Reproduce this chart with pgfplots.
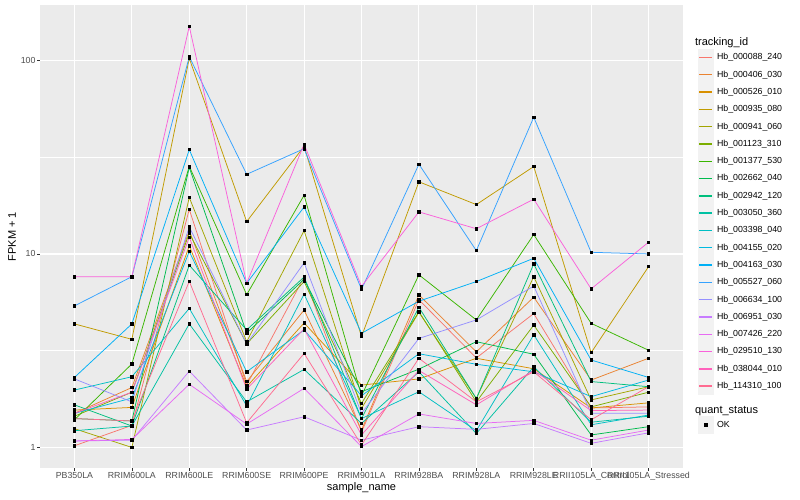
\documentclass[border=0pt]{standalone}
\usepackage{fontspec}
\setmainfont{Liberation Sans}
\usepackage{pgfplots}
\usepackage{pgfplotstable}
\pgfplotsset{compat=1.18}

\definecolor{panel}{HTML}{EBEBEB}
\definecolor{keybg}{HTML}{F2F2F2}
\definecolor{tickc}{HTML}{333333}
\definecolor{labc}{HTML}{4D4D4D}
\definecolor{c1}{HTML}{F8766D}
\definecolor{c2}{HTML}{EA8331}
\definecolor{c3}{HTML}{D89000}
\definecolor{c4}{HTML}{C09B00}
\definecolor{c5}{HTML}{A3A500}
\definecolor{c6}{HTML}{7CAE00}
\definecolor{c7}{HTML}{39B600}
\definecolor{c8}{HTML}{00BB4E}
\definecolor{c9}{HTML}{00BF7D}
\definecolor{c10}{HTML}{00C1A3}
\definecolor{c11}{HTML}{00BFC4}
\definecolor{c12}{HTML}{00BAE0}
\definecolor{c13}{HTML}{00B0F6}
\definecolor{c14}{HTML}{35A2FF}
\definecolor{c15}{HTML}{9590FF}
\definecolor{c16}{HTML}{C77CFF}
\definecolor{c17}{HTML}{E76BF3}
\definecolor{c18}{HTML}{FA62DB}
\definecolor{c19}{HTML}{FF62BC}
\definecolor{c20}{HTML}{FF6C91}

% FPKM + 1, one row per sample, one column per tracking_id
\pgfplotstableread{
x  s1   s2   s3   s4    s5   s6   s7   s8   s9   s10  s11  s12  s13  s14   s15  s16  s17  s18  s19  s20
1  1.02 1.50 1.56 4.35  1.25 1.45 1.39 1.41 1.66 1.22 1.98 1.50 2.30 5.39  2.26 1.08 1.08 7.63 1.50 1.41
2  1.30 2.04 1.61 3.62  1.00 1.93 2.70 1.37 1.29 1.29 2.32 1.80 4.35 7.63  1.72 1.09 1.10 7.63 1.93 1.37
3  17.0 13.2 11.0 102.6 19.6 12.8 28.4 28.0 8.75 4.35 5.23 10.3 34.6 104.6 13.8 2.48 2.12 150  12.2 7.22
4  2.10 2.19 2.06 14.7  3.52 3.43 6.16 3.90 4.05 1.72 1.64 2.46 7.06 25.8  3.43 1.23 1.32 7.06 2.00 1.34
5  7.60 5.13 4.40 36.0  13.2 7.20 20.1 7.40 7.60 2.53 6.20 4.05 17.5 35.0  9.00 1.44 2.02 36.9 4.10 3.06
6  1.20 1.23 2.10 3.74  1.59 1.69 1.85 1.94 1.41 1.33 1.41 1.85 3.89 6.56  1.50 1.09 1.01 6.80 1.16 1.03
7  5.80 6.14 2.26 23.6  5.00 5.03 7.80 2.54 5.30 2.46 1.94 3.05 5.70 29.1  3.66 1.28 1.49 16.5 2.50 2.89
8  2.90 3.12 2.89 18.0  1.79 1.72 4.56 3.52 1.79 1.18 1.22 2.69 7.20 10.4  4.56 1.24 1.33 13.5 1.66 1.72
9  4.92 5.98 2.55 28.3  7.63 4.29 12.6 3.03 8.88 2.61 3.82 2.46 9.50 50.9  6.83 1.33 1.38 19.2 2.50 2.46
10 1.60 2.23 1.60 3.09  1.76 1.62 4.38 1.16 2.19 1.35 1.31 1.83 2.83 10.2  1.50 1.05 1.09 6.60 1.55 1.39
11 1.62 2.89 1.70 8.60  2.06 1.93 3.18 1.28 2.06 1.45 1.47 2.23 2.30 10.0  1.50 1.19 1.23 11.5 1.56 2.06
}\fpkm

\begin{document}
\begin{tikzpicture}
\useasboundingbox (0pt,0pt) rectangle (800pt,500pt);
\begin{axis}[
  at={(40pt,32pt)}, anchor=south west,
  width=643pt, height=463pt, scale only axis,
  xmin=0.4, xmax=11.6,
  ymode=log, ymin=0.783, ymax=193.6,
  xtick={1,...,11},
  xticklabels={PB350LA,RRIM600LA,RRIM600LE,RRIM600SE,RRIM600PE,RRIM901LA,RRIM928BA,RRIM928LA,RRIM928LE,RRII105LA\_Control,RRII105LA\_Stressed},
  ytick={1,10,100}, yticklabels={1,10,100},
  minor ytick={3.16228,31.6228},
  grid=both,
  major grid style={white, line width=1.1pt},
  minor grid style={white, line width=0.55pt},
  axis background/.style={fill=panel},
  axis line style={draw=none},
  tick pos=left, tick align=outside,
  major tick length=2.8pt, minor tick length=0pt,
  tick style={color=tickc, line width=0.55pt},
  ticklabel style={font=\fontsize{8.8}{10}\selectfont, text=labc},
  xticklabel style={inner sep=1.5pt},
  yticklabel style={inner sep=1.5pt},
  xlabel={sample\_name}, ylabel={FPKM + 1},
  label style={font=\fontsize{11}{13}\selectfont},
  x label style={at={(axis description cs:0.5,-0.0432)}, anchor=center},
  y label style={at={(axis description cs:-0.0435,0.5)}, anchor=center},
  legend cell align=left,
  legend style={at={(axis description cs:1.0225,0.933)}, anchor=north west,
    draw=none, fill=none, inner sep=0pt, row sep=0.15pt,
    font=\fontsize{8.8}{10}\selectfont, nodes={inner sep=1.5pt}},
  legend image code/.code={
    \path[draw=none, fill=none] (0pt,0pt) -- (17.5pt,0pt);
    \fill[keybg] (0pt,-8.2pt) rectangle (15.5pt,8.2pt);
    \draw[line width=1.4pt] (1.2pt,0pt) -- (14.3pt,0pt);},
  every axis plot/.append style={line width=0.75pt},
]
\addlegendimage{legend image code/.code={}}
\addlegendentry{\makebox[0pt][l]{\hspace*{-22pt}\fontsize{11}{13}\selectfont tracking\_id}}

\addplot[c1]  table[x=x,y=s1]{\fpkm};  \addlegendentry{Hb\_000088\_240}
\addplot[c2]  table[x=x,y=s2]{\fpkm};  \addlegendentry{Hb\_000406\_030}
\addplot[c3]  table[x=x,y=s3]{\fpkm};  \addlegendentry{Hb\_000526\_010}
\addplot[c4]  table[x=x,y=s4]{\fpkm};  \addlegendentry{Hb\_000935\_080}
\addplot[c5]  table[x=x,y=s5]{\fpkm};  \addlegendentry{Hb\_000941\_060}
\addplot[c6]  table[x=x,y=s6]{\fpkm};  \addlegendentry{Hb\_001123\_310}
\addplot[c7]  table[x=x,y=s7]{\fpkm};  \addlegendentry{Hb\_001377\_530}
\addplot[c8]  table[x=x,y=s8]{\fpkm};  \addlegendentry{Hb\_002662\_040}
\addplot[c9]  table[x=x,y=s9]{\fpkm};  \addlegendentry{Hb\_002942\_120}
\addplot[c10] table[x=x,y=s10]{\fpkm}; \addlegendentry{Hb\_003050\_360}
\addplot[c11] table[x=x,y=s11]{\fpkm}; \addlegendentry{Hb\_003398\_040}
\addplot[c12] table[x=x,y=s12]{\fpkm}; \addlegendentry{Hb\_004155\_020}
\addplot[c13] table[x=x,y=s13]{\fpkm}; \addlegendentry{Hb\_004163\_030}
\addplot[c14] table[x=x,y=s14]{\fpkm}; \addlegendentry{Hb\_005527\_060}
\addplot[c15] table[x=x,y=s15]{\fpkm}; \addlegendentry{Hb\_006634\_100}
\addplot[c16] table[x=x,y=s16]{\fpkm}; \addlegendentry{Hb\_006951\_030}
\addplot[c17] table[x=x,y=s17]{\fpkm}; \addlegendentry{Hb\_007426\_220}
\addplot[c18] table[x=x,y=s18]{\fpkm}; \addlegendentry{Hb\_029510\_130}
\addplot[c19] table[x=x,y=s19]{\fpkm}; \addlegendentry{Hb\_038044\_010}
\addplot[c20] table[x=x,y=s20]{\fpkm}; \addlegendentry{Hb\_114310\_100}

% points on top of all lines
\pgfplotsinvokeforeach{1,...,20}{
  \addplot[only marks, mark=square*, mark size=1.2pt, black, forget plot] table[x=x,y=s#1]{\fpkm};
}

\addlegendimage{legend image code/.code={}}
\addlegendentry{\makebox[0pt][l]{\hspace*{-22pt}\fontsize{11}{13}\selectfont\rule[-9pt]{0pt}{26pt}quant\_status}}
\addlegendimage{legend image code/.code={
    \path[draw=none, fill=none] (0pt,0pt) -- (17.5pt,0pt);
    \fill[keybg] (0pt,-8.2pt) rectangle (15.5pt,8.2pt);
    \fill[black] (6.2pt,-1.5pt) rectangle (9.3pt,1.5pt);}}
\addlegendentry{OK}
\end{axis}
\end{tikzpicture}
\end{document}
